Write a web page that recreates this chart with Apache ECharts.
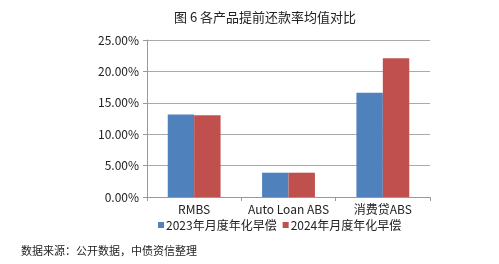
<!DOCTYPE html>
<html><head><meta charset="utf-8">
<script src="https://cdn.jsdelivr.net/npm/echarts@6/dist/echarts.min.js"></script>
<style>html,body{margin:0;padding:0;background:#fff}#c{width:499px;height:264px}</style>
</head><body><div id="c"></div>
<script>
var titleText = '图 6 各产品提前还款率均值对比';
var categories = ['RMBS', 'Auto Loan ABS', '消费贷ABS'];
var seriesNames = ['2023年月度年化早偿', '2024年月度年化早偿'];
var values2023 = [13.15, 3.87, 16.62];
var values2024 = [13.0, 3.87, 22.08];
var yTicks = [0, 5, 10, 15, 20, 25];
var sourceText = '数据来源：公开数据，中债资信整理';

var font = '"Noto Sans CJK SC", "Noto Sans", sans-serif';
var chart = echarts.init(document.getElementById('c'), null, {renderer: 'canvas'});
chart.setOption({
  animation: false,
  backgroundColor: '#fff',
  title: [
    {text: titleText, left: 260, top: 6, textAlign: 'center',
     textStyle: {fontFamily: font, fontSize: 13, fontWeight: 'normal', color: '#222'}},
    {text: sourceText, left: 16, top: 240,
     textStyle: {fontFamily: font, fontSize: 11, fontWeight: 'normal', color: '#222'}}
  ],
  legend: {
    top: 214, left: 153, width: 330, itemGap: 6, itemWidth: 6, itemHeight: 6, icon: 'rect',
    orient: 'horizontal',
    data: seriesNames,
    textStyle: {fontFamily: font, fontSize: 12, color: '#222', padding: [0, 0, 0, -3]}
  },
  grid: {left: 147, right: 69, top: 40, bottom: 67, containLabel: false},
  xAxis: {
    type: 'category', data: categories,
    axisLine: {lineStyle: {color: '#999'}},
    axisTick: {show: true, length: 4, lineStyle: {color: '#999'}},
    axisLabel: {fontFamily: font, fontSize: 12, color: '#222', margin: 6, interval: 0}
  },
  yAxis: {
    type: 'value', min: yTicks[0], max: yTicks[yTicks.length - 1], interval: 5,
    axisLine: {show: true, lineStyle: {color: '#999'}},
    axisTick: {show: true, length: 4, lineStyle: {color: '#999'}},
    splitLine: {lineStyle: {color: '#aaa'}},
    axisLabel: {fontFamily: font, fontSize: 12, color: '#222', margin: 8,
      formatter: function(v){return v.toFixed(2) + '%';}}
  },
  series: [
    {name: seriesNames[0], type: 'bar', data: values2023, barGap: '0%', barCategoryGap: '44%',
     itemStyle: {color: '#4F81BD'}},
    {name: seriesNames[1], type: 'bar', data: values2024, barGap: '0%', barCategoryGap: '44%',
     itemStyle: {color: '#C0504D'}}
  ]
});
</script></body></html>
